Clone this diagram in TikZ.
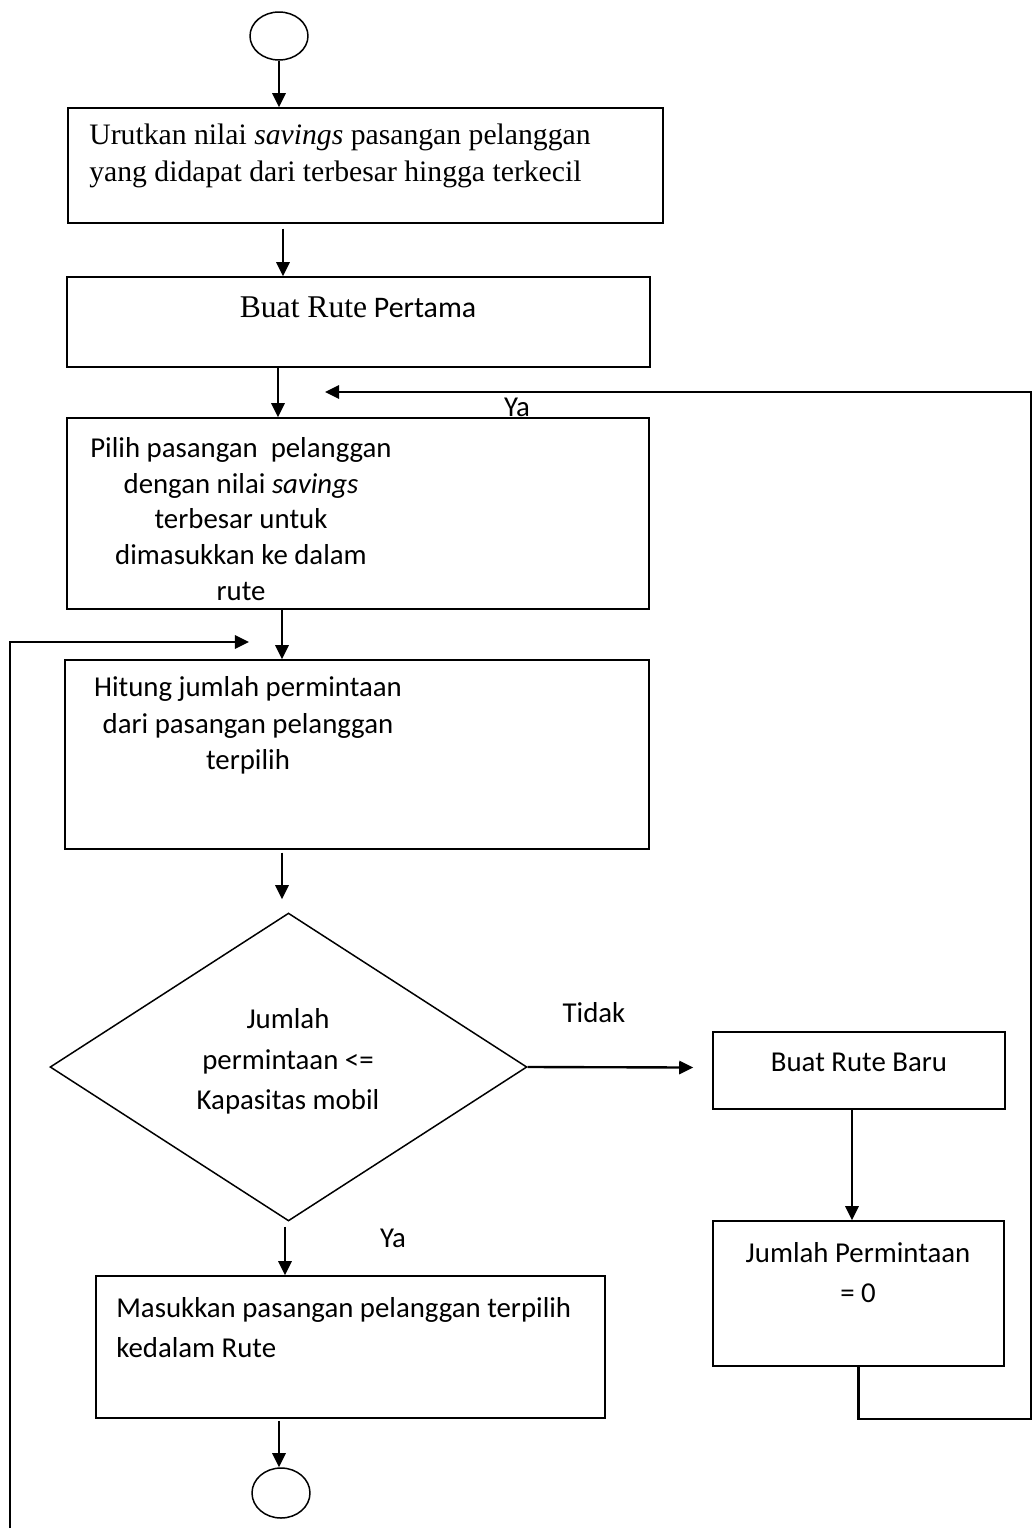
\documentclass[tikz,border=0pt]{standalone}
\usepackage{fontspec}
\setmainfont{Carlito}
\newfontfamily\tnr{Liberation Serif}
\usetikzlibrary{arrows.meta,shapes.geometric,calc}

\begin{document}
\begin{tikzpicture}[x=0.02cm,y=-0.02cm,
  box/.style={draw, line width=0.85pt, inner sep=0pt},
  term/.style={draw, ellipse, line width=0.85pt, inner sep=0pt,
               minimum width=1.16cm, minimum height=0.96cm},
  decide/.style={draw, diamond, line width=0.85pt, inner sep=0pt,
                 minimum width=9.54cm, minimum height=6.16cm},
  arr/.style={line width=1.35pt, -{Triangle[length=8pt,width=7.5pt]}},
  calA/.style={inner sep=0pt, align=center, font=\fontsize{16.4}{20.4}\selectfont},
  calB/.style={inner sep=0pt, align=center, font=\fontsize{16.4}{23.2}\selectfont},
  times/.style={inner sep=0pt, align=left, font=\tnr\fontsize{16.9}{21}\selectfont},
]
% page
\path[fill=white, use as bounding box] (0,0) rectangle (1033,1539);

% terminals
\node[term] (start) at (279,36) {};
\node[term, minimum height=1.0cm] (stop) at (281,1493) {};

% process boxes
\node[box, minimum width=11.90cm, minimum height=2.30cm] (b1) at (365.5,165.5) {};
\node[box, minimum width=11.66cm, minimum height=1.80cm] (b2) at (358.5,322) {};
\node[box, minimum width=11.64cm, minimum height=3.82cm] (b3) at (358,513.5) {};
\node[box, minimum width=11.68cm, minimum height=3.78cm] (b4) at (357,754.5) {};
\node[decide] (d) at (288.5,1067) {};
\node[box, minimum width=10.18cm, minimum height=2.84cm] (b5) at (350.5,1347) {};
\node[box, minimum width=5.84cm, minimum height=1.54cm] (b6) at (859,1070.5) {};
\node[box, minimum width=5.82cm, minimum height=2.90cm] (b7) at (858.5,1293.5) {};

% box texts
\node[times, anchor=west] (t1) at (89,156)
  {Urutkan nilai \textit{savings} pasangan pelanggan\\yang didapat dari terbesar hingga terkecil};
\node[inner sep=0pt, font=\fontsize{17}{20}\selectfont] (t2) at (358,307)
  {{\tnr\fontsize{18}{20}\selectfont Buat Rute} Pertama};
\node[calA] (t3) at (241,519)
  {Pilih pasangan\ \ pelanggan\\dengan nilai \textit{savings}\\terbesar untuk\\dimasukkan ke dalam\\rute};
\node[calA, font=\fontsize{16.4}{20.7}\selectfont] (t4) at (248,725.5)
  {Hitung jumlah permintaan\\dari pasangan pelanggan\\terpilih};
\node[calB] (t5) at (288,1061.5)
  {Jumlah\\permintaan <=\\Kapasitas mobil};
\node[calB, align=left, anchor=west] (t6) at (116,1327.5)
  {Masukkan pasangan pelanggan terpilih\\kedalam Rute};
\node[calB] (t7) at (859,1062) {Buat Rute Baru};
\node[calB] (t8) at (858,1272.5) {Jumlah Permintaan\\= 0};

% branch labels
\node[calB] (ya1) at (517,407) {Ya};
\node[calB] (tidak) at (594,1013) {Tidak};
\node[calB] (ya2) at (393,1238) {Ya};

% free ends of the two loops
\coordinate (yaIn) at (325,392);
\coordinate (rightCorner) at (1031,1419);
\coordinate (leftFoot) at (10,1528);
\coordinate (leftIn) at (249,642);

% main flow
\draw[arr] (start.south) -- (start.south |- b1.north);
\draw[arr] ($(b1.south)+(-82.5,5)$) -- ($(b2.north)+(-75.5,0)$);
\draw[arr] ($(b2.south)+(-80.5,0)$) -- ($(b3.north)+(-80,0)$);
\draw[arr] ($(b3.south)+(-76,0)$) -- ($(b4.north)+(-75,0)$);
\draw[arr] ($(b4.south)+(-75,3)$) -- ($(d.north)+(-6.5,-13)$);
\draw[arr] ($(d.south)+(-3.5,5)$) -- ($(b5.north)+(-65.5,0)$);
\draw[arr] ($(b5.south)+(-71.5,2)$) -- ($(stop.north)+(-2,0)$);

% "Tidak" branch
\draw[arr] (d.east) -- ($(b6.west)+(-19,-3)$);
\draw[arr] ($(b6.south)+(-7,0)$) -- ($(b7.north)+(-6.5,0)$);

% loops back
\draw[arr] (b7.south) |- (rightCorner) |- (yaIn);
\draw[arr] (leftFoot) |- (leftIn);
\end{tikzpicture}
\end{document}
